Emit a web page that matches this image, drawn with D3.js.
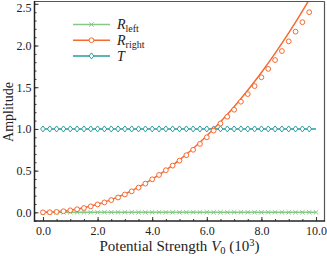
<!DOCTYPE html>
<html>
<head>
<meta charset="utf-8">
<script src="https://cdn.jsdelivr.net/npm/d3@7"></script>
<style>
  body { margin: 0; background: #fff; }
  svg { display: block; }
  text { font-family: "Liberation Serif", "DejaVu Serif", serif; fill: #222; }
</style>
</head>
<body>
<svg id="container" width="327" height="256"></svg>
<script>
var markerV = [0, 0.25, 0.5, 0.75, 1, 1.25, 1.5, 1.75, 2, 2.25, 2.5, 2.75, 3, 3.25, 3.5, 3.75,
  4, 4.25, 4.5, 4.75, 5, 5.25, 5.5, 5.75, 6, 6.25, 6.5, 6.75, 7, 7.25, 7.5, 7.75,
  8, 8.25, 8.5, 8.75, 9, 9.25, 9.5, 9.75, 10];

var rLeftMarks = [0, 0, 0, 0, 0, 0, 0, 0, 0, 0, 0, 0, 0, 0, 0, 0, 0, 0, 0, 0, 0,
  0, 0, 0, 0, 0, 0, 0, 0, 0, 0, 0, 0, 0, 0, 0, 0, 0, 0, 0, 0];
var rRightMarks = [0, 0.001, 0.005, 0.013, 0.024, 0.037, 0.052, 0.071, 0.095, 0.119, 0.147, 0.178,
  0.214, 0.252, 0.296, 0.344, 0.396, 0.448, 0.505, 0.56, 0.62, 0.685, 0.75, 0.82,
  0.90, 0.98, 1.065, 1.146, 1.23, 1.326, 1.418, 1.514, 1.619, 1.72, 1.826, 1.934,
  2.05, 2.166, 2.28, 2.40];
var tMarks = [1, 1, 1, 1, 1, 1, 1, 1, 1, 1, 1, 1, 1, 1, 1, 1, 1, 1, 1, 1,
  1, 1, 1, 1, 1, 1, 1, 1, 1, 1, 1, 1, 1, 1, 1, 1, 1, 1, 1, 1];

var lineV = [0, 0.5, 1, 1.5, 2, 2.5, 3, 3.5, 4, 4.5, 5, 5.5, 6, 6.5, 7, 7.5, 8, 8.5, 9, 9.5, 10];
var rLeftLine = [0, 0, 0, 0, 0, 0, 0, 0, 0, 0, 0, 0, 0, 0, 0, 0, 0, 0, 0, 0, 0];
var rRightLine = [0, 0.006, 0.024, 0.054, 0.096, 0.152, 0.220, 0.302, 0.397, 0.506, 0.629,
  0.766, 0.918, 1.085, 1.267, 1.464, 1.677, 1.906, 2.152, 2.413, 2.692];
var tLine = [1, 1, 1, 1, 1, 1, 1, 1, 1, 1, 1, 1, 1, 1, 1, 1, 1, 1, 1, 1, 1];

var xTicks = [0, 2, 4, 6, 8, 10];
var yTicks = [0, 0.5, 1, 1.5, 2, 2.5];

var colors = {left: "#86c986", right: "#f8692f", t: "#2a9b9d"};

var pLeft = 34.5, pRight = 324.5, pTop = 1.5, pBottom = 221;

var svg = d3.select("#container");

var x = d3.scaleLinear().domain([-0.31, 10.31]).range([pLeft, pRight]);
var y = d3.scaleLinear().domain([-0.104, 2.528]).range([pBottom, pTop]);

svg.append("defs").append("clipPath")
  .attr("id", "clip")
  .append("rect")
  .attr("x", pLeft).attr("y", pTop)
  .attr("width", pRight - pLeft).attr("height", pBottom - pTop);

// minor ticks
svg.append("g")
  .attr("transform", "translate(0," + pBottom + ")")
  .call(d3.axisBottom(x).tickValues(d3.range(0, 10.01, 0.5)).tickSize(-2).tickFormat(""))
  .call(function(g) { g.select(".domain").remove(); g.selectAll("line").attr("stroke", "#333"); });
svg.append("g")
  .attr("transform", "translate(" + pLeft + ",0)")
  .call(d3.axisLeft(y).tickValues(d3.range(-0.1, 2.52, 0.1)).tickSize(-2).tickFormat(""))
  .call(function(g) { g.select(".domain").remove(); g.selectAll("line").attr("stroke", "#333"); });

var xAxis = svg.append("g")
  .attr("transform", "translate(0," + pBottom + ")")
  .call(d3.axisBottom(x).tickValues(xTicks).tickSizeInner(-4).tickSizeOuter(0).tickPadding(5)
    .tickFormat(d3.format(".1f")));
xAxis.select(".domain").remove();
xAxis.selectAll("line").attr("stroke", "#333");
xAxis.selectAll("text").style("font-size", "12px").attr("fill", "#222");

var yAxis = svg.append("g")
  .attr("transform", "translate(" + pLeft + ",0)")
  .call(d3.axisLeft(y).tickValues(yTicks).tickSizeInner(-4).tickSizeOuter(0).tickPadding(3)
    .tickFormat(d3.format(".1f")));
yAxis.select(".domain").remove();
yAxis.selectAll("line").attr("stroke", "#333");
yAxis.selectAll("text").style("font-size", "12px").attr("fill", "#222")
  .attr("dy", function(d) { return d === 2.5 ? "0.62em" : "0.32em"; });

var plot = svg.append("g").attr("clip-path", "url(#clip)");

var line = d3.line()
  .x(function(d) { return x(d[0]); })
  .y(function(d) { return y(d[1]); })
  .curve(d3.curveMonotoneX);

function pairs(xs, ys) {
  return ys.map(function(v, i) { return [xs[i], v]; });
}

var series = [
  {key: "left", line: rLeftLine, marks: rLeftMarks, shape: "x"},
  {key: "t", line: tLine, marks: tMarks, shape: "diamond"},
  {key: "right", line: rRightLine, marks: rRightMarks, shape: "circle"}
];

function drawMarker(g, shape, color) {
  if (shape === "circle") {
    g.append("circle").attr("r", 2.4)
      .attr("fill", "#fff").attr("stroke", color).attr("stroke-width", 1);
  } else if (shape === "diamond") {
    g.append("path").attr("d", "M0,-3L2.4,0L0,3L-2.4,0Z")
      .attr("fill", "#fff").attr("stroke", color).attr("stroke-width", 1);
  } else {
    g.append("path").attr("d", "M-2.2,-2.2L2.2,2.2M-2.2,2.2L2.2,-2.2")
      .attr("fill", "none").attr("stroke", color).attr("stroke-width", 1);
  }
}

series.forEach(function(s) {
  plot.append("path")
    .datum(pairs(lineV, s.line))
    .attr("fill", "none")
    .attr("stroke", colors[s.key])
    .attr("stroke-width", 1.5)
    .attr("d", line);

  plot.selectAll(".m-" + s.key)
    .data(pairs(markerV, s.marks))
    .enter()
    .append("g")
    .attr("class", "m-" + s.key)
    .attr("transform", function(d) { return "translate(" + x(d[0]) + "," + y(d[1]) + ")"; })
    .each(function() { drawMarker(d3.select(this), s.shape, colors[s.key]); });
});

// frame
svg.append("line").attr("x1", pLeft).attr("x2", pRight).attr("y1", pTop).attr("y2", pTop)
  .attr("stroke", "#555").attr("stroke-width", 1.2);
svg.append("line").attr("x1", pRight).attr("x2", pRight).attr("y1", pTop).attr("y2", pBottom)
  .attr("stroke", "#555").attr("stroke-width", 1.2);
svg.append("line").attr("x1", pLeft).attr("x2", pLeft).attr("y1", pTop - 0.6).attr("y2", pBottom + 0.75)
  .attr("stroke", "#222").attr("stroke-width", 1.5);
svg.append("line").attr("x1", pLeft).attr("x2", pRight + 0.6).attr("y1", pBottom).attr("y2", pBottom)
  .attr("stroke", "#222").attr("stroke-width", 1.5);

// axis titles
var xt = svg.append("text")
  .attr("x", 179.5).attr("y", 251)
  .attr("text-anchor", "middle")
  .style("font-size", "15px");
xt.append("tspan").text("Potential Strength ");
xt.append("tspan").style("font-style", "italic").text("V");
xt.append("tspan").attr("dy", 2.5).style("font-size", "10.5px").text("0");
xt.append("tspan").attr("dy", -2.5).text(" (10");
xt.append("tspan").attr("dy", -5).style("font-size", "10.5px").text("3");
xt.append("tspan").attr("dy", 5).text(")");

svg.append("text")
  .attr("transform", "translate(13,112) rotate(-90)")
  .attr("text-anchor", "middle")
  .style("font-size", "14px")
  .text("Amplitude");

// legend
var legendItems = [
  {key: "left", shape: "x", name: "R", sub: "left"},
  {key: "right", shape: "circle", name: "R", sub: "right"},
  {key: "t", shape: "diamond", name: "T", sub: ""}
];

var legend = svg.selectAll(".legend")
  .data(legendItems)
  .enter()
  .append("g")
  .attr("class", "legend")
  .attr("transform", function(d, i) { return "translate(0," + (24.5 + 15.7 * i) + ")"; });

legend.append("line")
  .attr("x1", 73).attr("x2", 110)
  .attr("stroke", function(d) { return colors[d.key]; })
  .attr("stroke-width", 1.5);

legend.each(function(d) {
  var g = d3.select(this).append("g").attr("transform", "translate(91.5,0)");
  drawMarker(g, d.shape, colors[d.key]);
});

var lt = legend.append("text")
  .attr("x", 117).attr("y", 4.8)
  .style("font-size", "14px");
lt.append("tspan").style("font-style", "italic").text(function(d) { return d.name; });
lt.append("tspan").attr("dy", 2.5).style("font-size", "10px").text(function(d) { return d.sub; });
</script>
</body>
</html>
